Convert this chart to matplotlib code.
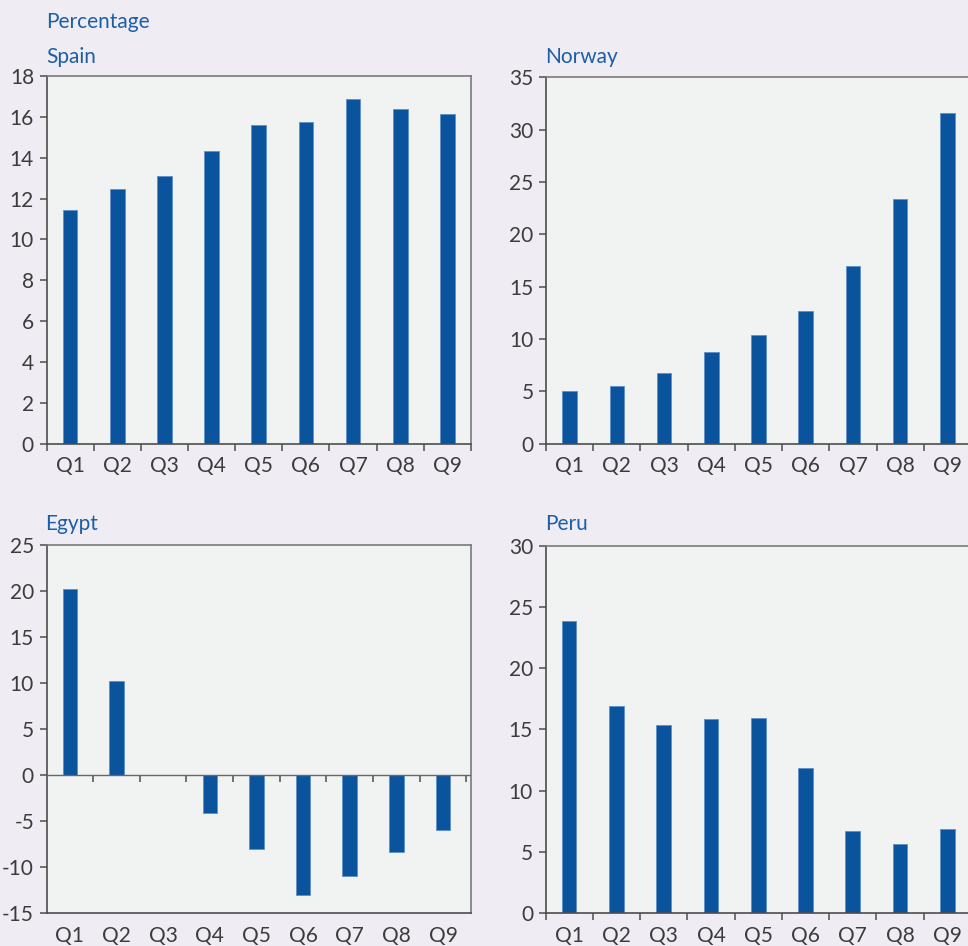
import numpy as np
import matplotlib
matplotlib.use('Agg')
import matplotlib.pyplot as plt
from matplotlib.ticker import FixedLocator, NullFormatter

plt.rcParams['font.family'] = ['Lato', 'DejaVu Sans']
plt.rcParams['axes.unicode_minus'] = False

quarters = ['Q1', 'Q2', 'Q3', 'Q4', 'Q5', 'Q6', 'Q7', 'Q8', 'Q9']
spain = [11.45, 12.45, 13.1, 14.35, 15.6, 15.75, 16.88, 16.38, 16.12]
norway = [5.0, 5.5, 6.75, 8.75, 10.35, 12.65, 16.95, 23.35, 31.6]
egypt = [20.2, 10.2, 0.0, -4.1, -8.0, -13.0, -11.0, -8.3, -5.9]
peru = [23.85, 16.9, 15.35, 15.85, 15.9, 11.85, 6.7, 5.6, 6.85]

W, H = 968, 946
bg = '#efedf3'
axbg = '#f1f2f2'
bar_col = '#0a549e'
title_col = '#1c5ea8'
txt_col = '#3c3c3c'
spine_col = '#4d4d4d'
fs = 15

fig = plt.figure(figsize=(W / 100, H / 100), dpi=100, facecolor=bg)


def px_axes(x0, y0, x1, y1):
    return fig.add_axes([x0 / W, 1 - y1 / H, (x1 - x0) / W, (y1 - y0) / H])


def panel(ax, vals, ylim, ystep, xmax=8.5, zero_ticks=False):
    x = np.arange(len(quarters))
    ax.set_facecolor(axbg)
    ax.bar(x, vals, width=0.31, color=bar_col, edgecolor='#5d8fc9', linewidth=0.6)
    ax.set_xlim(-0.5, xmax)
    ax.set_ylim(*ylim)
    ax.set_yticks(np.arange(ylim[0], ylim[1] + 0.01, ystep))
    ax.tick_params(axis='y', direction='out', length=5, width=1.1, color=spine_col,
                   labelsize=fs, labelcolor=txt_col, pad=4)
    for s in ax.spines.values():
        s.set_color(spine_col)
        s.set_linewidth(1.2)
    ax.spines['top'].set_color('#7a7a7a')
    ax.spines['right'].set_color('#7a7a7a')
    bounds = np.arange(-0.5, len(quarters), 1.0)
    ax.set_xticks(x)
    ax.set_xticklabels(quarters)
    ax.tick_params(axis='x', which='major', length=0, labelsize=fs,
                   labelcolor=txt_col, pad=9)
    if zero_ticks:
        # tick marks sit on the zero line, labels stay at the bottom
        ax.axhline(0, color='#666666', lw=1.0, zorder=3)
        zero = ax.secondary_xaxis((0 - ylim[0]) / (ylim[1] - ylim[0]))
        zero.spines['bottom'].set_visible(False)
        zero.set_xticks(bounds[1:])
        zero.xaxis.set_major_formatter(NullFormatter())
        zero.tick_params(axis='x', direction='out', length=5, width=1.1, color=spine_col)
    else:
        ax.xaxis.set_minor_locator(FixedLocator(bounds))
        ax.tick_params(axis='x', which='minor', direction='out', length=5, width=1.1,
                       color=spine_col)


ax1 = px_axes(46.5, 76, 471, 443.7)
panel(ax1, spain, (0, 18), 2)
ax2 = px_axes(546, 77.3, 971, 443.7)
panel(ax2, norway, (0, 35), 5)
ax3 = px_axes(46.5, 545, 471, 913.3)
panel(ax3, egypt, (-15, 25), 5, xmax=8.6, zero_ticks=True)
ax4 = px_axes(545.5, 545.7, 971, 913)
panel(ax4, peru, (0, 30), 5)

fig.text(46 / W, 1 - 28 / H, 'Percentage', color=title_col, fontsize=fs, va='baseline')
fig.text(46 / W, 1 - 63 / H, 'Spain', color=title_col, fontsize=fs, va='baseline')
fig.text(545 / W, 1 - 63 / H, 'Norway', color=title_col, fontsize=fs, va='baseline')
fig.text(45 / W, 1 - 530 / H, 'Egypt', color=title_col, fontsize=fs, va='baseline')
fig.text(545 / W, 1 - 530 / H, 'Peru', color=title_col, fontsize=fs, va='baseline')

fig.savefig('out.png', dpi=100, facecolor=bg)
